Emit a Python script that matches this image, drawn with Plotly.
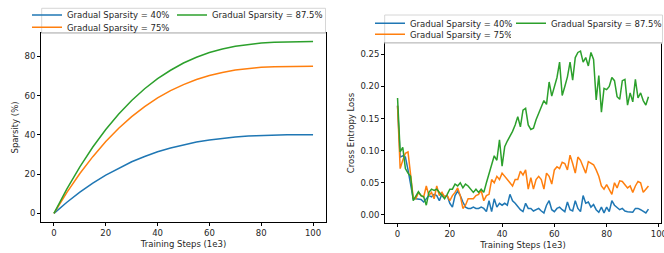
import plotly.graph_objects as go

# ---------------- data ----------------
labels = ["Gradual Sparsity = 40%", "Gradual Sparsity = 75%", "Gradual Sparsity = 87.5%"]
colors = ["#1f77b4", "#ff7f0e", "#2ca02c"]

# left panel: sparsity schedule (read every 5k steps)
steps_sparsity = [0, 5, 10, 15, 20, 25, 30, 35, 40, 45, 50, 55, 60, 65, 70, 75, 80, 85, 90, 95, 100]
sparsity_40 = [0, 5.7, 10.8, 15.4, 19.5, 23.1, 26.3, 29.0, 31.4, 33.3, 35.0, 36.4, 37.4, 38.3,
               38.9, 39.4, 39.7, 39.9, 40.0, 40.0, 40.0]
sparsity_75 = [0, 10.7, 20.3, 28.9, 36.6, 43.4, 49.3, 54.4, 58.8, 62.5, 65.6, 68.2, 70.2, 71.8,
               73.0, 73.8, 74.4, 74.7, 74.9, 75.0, 75.0]
sparsity_875 = [0, 12.5, 23.7, 33.8, 42.7, 50.6, 57.5, 63.5, 68.6, 72.9, 76.6, 79.5, 81.9, 83.7,
                85.1, 86.1, 86.8, 87.2, 87.4, 87.5, 87.5]

# right panel: cross entropy loss (every 1k steps, 0..96)
steps_loss = list(range(0, 97))
loss_40 = [0.170, 0.090, 0.092, 0.090, 0.070, 0.045, 0.025, 0.025, 0.025, 0.024,
           0.020, 0.025, 0.030, 0.028, 0.032, 0.030, 0.022, 0.033, 0.028, 0.030,
           0.018, 0.012, 0.030, 0.037, 0.030, 0.020, 0.012, 0.010, 0.010, 0.012,
           0.010, 0.010, 0.012, 0.010, 0.005, 0.022, 0.005, 0.025, 0.012, 0.018,
           0.015, 0.018, 0.015, 0.032, 0.022, 0.018, 0.012, 0.008, 0.005, 0.018,
           0.010, 0.010, 0.006, 0.008, 0.010, 0.006, 0.003, 0.015, 0.022, 0.008,
           0.005, 0.010, 0.012, 0.008, 0.005, 0.020, 0.008, 0.006, 0.022, 0.010,
           0.005, 0.030, 0.018, 0.020, 0.012, 0.016, 0.008, 0.004, 0.012, 0.003,
           0.012, 0.005, 0.022, 0.015, 0.012, 0.008, 0.010, 0.006, 0.005, 0.005,
           0.004, 0.010, 0.010, 0.008, 0.005, 0.003, 0.009]
loss_75 = [0.170, 0.072, 0.085, 0.096, 0.098, 0.065, 0.027, 0.025, 0.035, 0.030,
           0.028, 0.045, 0.030, 0.035, 0.025, 0.045, 0.030, 0.035, 0.028, 0.030,
           0.022, 0.030, 0.035, 0.042, 0.030, 0.010, 0.015, 0.025, 0.025, 0.025,
           0.030, 0.032, 0.038, 0.022, 0.030, 0.032, 0.055, 0.050, 0.060, 0.055,
           0.065, 0.060, 0.055, 0.050, 0.045, 0.055, 0.055, 0.068, 0.062, 0.070,
           0.040, 0.058, 0.040, 0.055, 0.060, 0.055, 0.040, 0.065, 0.060, 0.048,
           0.070, 0.075, 0.072, 0.082, 0.080, 0.070, 0.093, 0.080, 0.065, 0.090,
           0.085, 0.075, 0.065, 0.083, 0.080, 0.078, 0.070, 0.060, 0.045, 0.040,
           0.047, 0.040, 0.032, 0.050, 0.042, 0.053, 0.052, 0.047, 0.042, 0.045,
           0.035, 0.045, 0.052, 0.050, 0.035, 0.040, 0.045]
loss_875 = [0.182, 0.098, 0.105, 0.072, 0.065, 0.060, 0.022, 0.030, 0.036, 0.030,
            0.028, 0.015, 0.035, 0.040, 0.038, 0.040, 0.035, 0.030, 0.025, 0.032,
            0.040, 0.040, 0.048, 0.045, 0.050, 0.042, 0.048, 0.045, 0.040, 0.035,
            0.040, 0.035, 0.040, 0.035, 0.050, 0.065, 0.080, 0.092, 0.085, 0.117,
            0.076, 0.106, 0.115, 0.122, 0.130, 0.140, 0.153, 0.137, 0.163, 0.166,
            0.140, 0.133, 0.135, 0.148, 0.158, 0.166, 0.178, 0.172, 0.207, 0.185,
            0.200, 0.214, 0.238, 0.186, 0.200, 0.215, 0.238, 0.210, 0.245, 0.253,
            0.255, 0.238, 0.245, 0.232, 0.253, 0.242, 0.179, 0.217, 0.160, 0.197,
            0.195, 0.200, 0.214, 0.209, 0.184, 0.180, 0.209, 0.211, 0.171, 0.190,
            0.176, 0.211, 0.182, 0.190, 0.178, 0.171, 0.184]

x_ticks = [0, 20, 40, 60, 80, 100]
sparsity_ticks = [0, 20, 40, 60, 80]
loss_ticks = [0.0, 0.05, 0.10, 0.15, 0.20, 0.25]

# ---------------- figure ----------------
W, H = 664, 253
FONT = "DejaVu Sans"
FS = 8.5
TXT = "#262626"


def px_x(v):
    return v / W


def px_y(v):
    return 1 - v / H


fig = go.Figure()

left_series = [sparsity_40, sparsity_75, sparsity_875]
right_series = [loss_40, loss_75, loss_875]
left_legend = ["legend", "legend2", "legend"]
right_legend = ["legend3", "legend4", "legend3"]
ranks = [1, 3, 2]
lwidths_left = [100, 100, 112]
lwidths_right = [96, 96, 111]

for i in range(3):
    fig.add_trace(go.Scatter(x=steps_sparsity, y=left_series[i], mode="lines", name=labels[i],
                             line=dict(color=colors[i], width=1.5), xaxis="x", yaxis="y",
                             legend=left_legend[i], legendrank=ranks[i],
                             legendwidth=lwidths_left[i], hoverinfo="skip"))
for i in range(3):
    fig.add_trace(go.Scatter(x=steps_loss, y=right_series[i], mode="lines", name=labels[i],
                             line=dict(color=colors[i], width=1.5), xaxis="x2", yaxis="y2",
                             legend=right_legend[i], legendrank=ranks[i],
                             legendwidth=lwidths_right[i], hoverinfo="skip"))

axis_common = dict(showline=True, mirror=True, linecolor="#000000", linewidth=0.8,
                   ticks="outside", ticklen=3, tickwidth=0.8, tickcolor="#000000",
                   showgrid=False, zeroline=False, automargin=False,
                   tickfont=dict(family=FONT, size=FS, color=TXT))

fig.update_layout(
    width=W, height=H,
    margin=dict(l=0, r=0, t=0, b=0, pad=0, autoexpand=False),
    paper_bgcolor="white", plot_bgcolor="white",
    showlegend=True,
    xaxis=dict(domain=[px_x(41), px_x(326)], range=[-5, 105], tickvals=x_ticks,
               anchor="y",
               title=dict(text="Training Steps (1e3)", standoff=3,
                          font=dict(family=FONT, size=FS, color=TXT)),
               **axis_common),
    yaxis=dict(domain=[px_y(222), px_y(33)], range=[-4.375, 91.875], tickvals=sparsity_ticks,
               anchor="x",
               title=dict(text="Sparsity (%)", standoff=4,
                          font=dict(family=FONT, size=FS, color=TXT)),
               **axis_common),
    xaxis2=dict(domain=[px_x(385), px_x(661)], range=[-4.8, 100.8], tickvals=x_ticks,
                anchor="y2", ticklabeloverflow="allow",
                title=dict(text="Training Steps (1e3)", standoff=3,
                           font=dict(family=FONT, size=FS, color=TXT)),
                **axis_common),
    yaxis2=dict(domain=[px_y(223), px_y(43)], range=[-0.0127, 0.2677], tickvals=loss_ticks,
                tickformat=".2f", anchor="x2",
                title=dict(text="Cross Entropy Loss", standoff=4,
                           font=dict(family=FONT, size=FS, color=TXT)),
                **axis_common),
)

leg_common = dict(orientation="h", bgcolor="rgba(0,0,0,0)", borderwidth=0,
                  font=dict(family=FONT, size=FS, color=TXT), xanchor="left", yanchor="middle",
                  itemwidth=30, tracegroupgap=0, itemclick=False,
                  itemdoubleclick=False)

fig.update_layout(
    legend=dict(x=px_x(27), y=px_y(15), **leg_common),
    legend2=dict(x=px_x(27), y=px_y(27.3), **leg_common),
    legend3=dict(x=px_x(370), y=px_y(23.3), **leg_common),
    legend4=dict(x=px_x(370), y=px_y(34.3), **leg_common),
)

# legend frames
for (x0, x1, y0, y1) in [(41.7, 325.5, 8.3, 33.5), (384.7, 662.5, 15, 43.3)]:
    fig.add_shape(type="rect", xref="paper", yref="paper",
                  x0=px_x(x0), x1=px_x(x1), y0=px_y(y1), y1=px_y(y0),
                  line=dict(color="#cccccc", width=0.8), fillcolor="rgba(255,255,255,0.8)",
                  layer="above")

fig.write_html("out.html", config={"displayModeBar": False},
               post_script="document.body.style.margin='0';document.body.style.overflow='hidden';")
